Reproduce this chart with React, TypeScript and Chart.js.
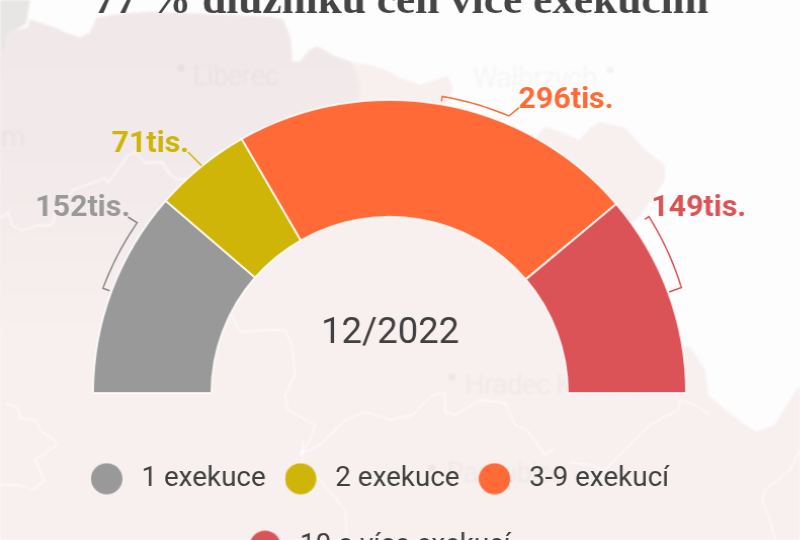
import React, { useEffect, useRef } from "react";
import { Chart, registerables } from "chart.js";

Chart.register(...registerables);

const categories = ["1 exekuce", "2 exekuce", "3-9 exekucí", "10 a více exekucí"];
const debtors = [152, 71, 296, 149];
const sliceLabels = ["152tis.", "71tis.", "296tis.", "149tis."];
const colors = ["#999999", "#cfb508", "#ff6a36", "#dc5357"];
const titleText = "77 % dlužníků čelí více exekucím";
const centerText = "12/2022";

const SX = 1.012;
const TOP = 40;
const W = 800;
const H = 610;
const sx = (x: number) => x / SX;
const sy = (y: number) => y + TOP;

const labelPositions = [
  { x: 35.2, y: 216 },
  { x: 111.5, y: 152 },
  { x: 518.5, y: 108 },
  { x: 651.2, y: 216 },
];
const brackets = [
  { from: 0.495, to: 0.837, r0: 302, r1: 302, tick0: 7, tick1: 0, lead: [128, 217] },
  null,
  { from: 0.5, to: 0.664, r0: 301, r1: 301, tick0: 5, tick1: 0, lead: [519, 107.7] },
  { from: 0.14, to: 0.5, r0: 311, r1: 307, tick0: 5, tick1: 13, lead: null },
];
const yellowLeader = [[188, 152], [201.7, 165.7]];

const mapOutline = [[0,55],[6,48],[8,35],[15,30],[28,28],[30,20],[55,28],[65,33],[80,38],[90,33],[97,18],[115,15],[150,12],[270,17],[283,20],[290,38],[292,62],[300,62],[310,50],[318,47],[335,57],[345,60],[352,63],[370,65],[385,70],[400,78],[420,85],[435,80],[448,76],[453,90],[445,105],[500,140],[535,138],[545,127],[560,132],[580,140],[590,128],[600,122],[625,128],[645,150],[665,165],[665,180],[655,195],[640,215],[633,222],[625,240],[670,345],[690,347],[705,370],[708,395],[725,410],[745,425],[757,432],[775,425],[790,400],[800,385],[800,540],[0,540]];
const mapDarker = [[0,55],[6,48],[8,35],[15,30],[28,28],[30,20],[55,28],[65,33],[80,38],[90,33],[97,18],[115,15],[150,12],[270,17],[283,20],[290,38],[292,62],[300,62],[310,50],[318,47],[335,57],[345,60],[352,63],[360,88],[357,105],[300,215],[215,260],[210,330],[0,330]];
const cornerGrey = [[0,0],[30,0],[28,12],[26,24],[15,30],[8,35],[6,48],[0,55]];
const borders = [
  [[0,218],[8,212],[12,225],[22,231],[35,226],[52,225],[55,215],[73,190],[105,178],[108,183],[128,155],[135,152],[145,163],[162,162],[170,175],[178,180],[187,178]],
  [[5,403],[18,408],[20,418],[35,420],[42,432],[55,440],[57,445],[35,460],[42,475],[45,480],[33,490],[20,485],[0,485]],
  [[232,315],[240,332],[270,330],[285,330],[292,345],[295,375],[285,395],[288,410],[315,425],[310,440],[300,455],[320,445],[345,420],[365,412],[390,420],[413,415],[432,395],[445,393],[445,412],[455,415],[480,400],[505,403],[515,425],[527,430],[545,455],[555,448]],
  [[303,440],[302,465],[320,480],[345,510],[347,540]],
  [[680,400],[678,410],[650,425],[635,440],[620,455],[605,470],[590,465],[570,462]],
  [[680,400],[695,405],[710,415]],
  [[800,450],[790,470],[765,490],[762,500],[770,520],[775,540]],
];
const placeNames = [
  { text: "Liberec", x: 193, y: 78, dot: [181, 68] },
  { text: "Wałbrzych", x: 473, y: 80, dot: [610, 70] },
  { text: "Ústí nad Labem", x: 25, y: 139, align: "right", dot: null },
  { text: "Hradec Králové", x: 465, y: 387, dot: [452, 377] },
  { text: "Pardubice", x: 447, y: 475, dot: [432, 468] },
];

const polygon = (ctx: CanvasRenderingContext2D, pts: number[][]) => {
  ctx.beginPath();
  pts.forEach(([x, y], i) => (i ? ctx.lineTo(x, y) : ctx.moveTo(x, y)));
  ctx.closePath();
};

const backdrop = {
  id: "backdrop",
  beforeDraw(chart: any) {
    const ctx: CanvasRenderingContext2D = chart.ctx;
    ctx.save();
    ctx.scale(1 / SX, 1);
    ctx.translate(0, TOP);
    ctx.fillStyle = "#fdfdfd";
    ctx.fillRect(0, -TOP, W * SX, H);
    ctx.filter = "blur(1px)";
    ctx.fillStyle = "#f8efef";
    polygon(ctx, mapOutline);
    ctx.fill();
    const g = ctx.createLinearGradient(0, 0, 0, 330);
    g.addColorStop(0, "#f1e8e9");
    g.addColorStop(0.55, "#f3eaeb");
    g.addColorStop(1, "#f8efef");
    ctx.fillStyle = g;
    polygon(ctx, mapDarker);
    ctx.fill();
    ctx.fillStyle = "#e8e5e5";
    polygon(ctx, cornerGrey);
    ctx.fill();
    ctx.strokeStyle = "rgba(255,255,255,0.75)";
    ctx.lineWidth = 1.8;
    ctx.lineJoin = "round";
    for (const b of borders) {
      ctx.beginPath();
      b.forEach(([x, y], i) => (i ? ctx.lineTo(x, y) : ctx.moveTo(x, y)));
      ctx.stroke();
    }
    ctx.font = "300 27px Roboto";
    ctx.fillStyle = "rgba(90,80,80,0.06)";
    for (const p of placeNames) {
      ctx.textAlign = (p.align as CanvasTextAlign) || "left";
      ctx.fillText(p.text, p.x, p.y);
      if (p.dot) {
        ctx.beginPath();
        ctx.arc(p.dot[0], p.dot[1], 3.5, 0, Math.PI * 2);
        ctx.fill();
      }
    }
    ctx.restore();
  },
};

const nudgeBlocks = {
  id: "nudgeBlocks",
  afterLayout(chart: any) {
    chart.titleBlock.left = 23;
    chart.legend.left += 1;
    chart.legend.right += 1;
  },
};

const annotations = {
  id: "annotations",
  afterDatasetsDraw(chart: any) {
    const ctx: CanvasRenderingContext2D = chart.ctx;
    const arcs = chart.getDatasetMeta(0).data;
    ctx.save();
    ctx.lineWidth = 1.5;
    ctx.lineJoin = "miter";
    arcs.forEach((arc: any, i: number) => {
      const { x, y, startAngle, endAngle } = arc.getProps(["x", "y", "startAngle", "endAngle"], true);
      const b = brackets[i];
      ctx.strokeStyle = i === 0 ? "#8a8a8a" : colors[i];
      ctx.beginPath();
      if (b) {
        const span = endAngle - startAngle;
        const a0 = startAngle + span * b.from;
        const a1 = startAngle + span * b.to;
        const polar = (a: number, r: number) => [x + Math.cos(a) * r, y + Math.sin(a) * r];
        const begin = polar(a0, b.r0 - b.tick0);
        ctx.moveTo(begin[0], begin[1]);
        for (let s = 0; s <= 16; s++) {
          const t = s / 16;
          const p = polar(a0 + (a1 - a0) * t, b.r0 + (b.r1 - b.r0) * t);
          ctx.lineTo(p[0], p[1]);
        }
        if (b.lead) ctx.lineTo(sx(b.lead[0]), sy(b.lead[1]));
        else {
          const p = polar(a1, b.r1 - b.tick1);
          ctx.lineTo(p[0], p[1]);
        }
      } else {
        ctx.moveTo(sx(yellowLeader[0][0]), sy(yellowLeader[0][1]));
        ctx.lineTo(sx(yellowLeader[1][0]), sy(yellowLeader[1][1]));
      }
      ctx.stroke();
      ctx.fillStyle = colors[i];
      ctx.font = "700 30px Roboto";
      ctx.textAlign = "left";
      ctx.textBaseline = "alphabetic";
      ctx.fillText(sliceLabels[i], sx(labelPositions[i].x), sy(labelPositions[i].y));
    });
    const first = arcs[0];
    ctx.fillStyle = "#404040";
    ctx.font = "400 36px Roboto";
    ctx.textAlign = "center";
    ctx.fillText(centerText, first.x + sx(0.5), first.y - 50);
    ctx.restore();
  },
};

const legendMark = (color: string) => {
  const c = document.createElement("canvas");
  c.width = 57;
  c.height = 32;
  const g = c.getContext("2d")!;
  g.fillStyle = color;
  g.beginPath();
  g.arc(15.5, 16, 15.5, 0, Math.PI * 2);
  g.fill();
  return c;
};

export default function App() {
  const ref = useRef<HTMLCanvasElement>(null);
  useEffect(() => {
    const chart = new Chart(ref.current!, {
      type: "doughnut",
      data: {
        labels: categories,
        datasets: [
          {
            data: debtors,
            backgroundColor: colors,
            borderColor: "rgba(255,255,255,0.8)",
            borderWidth: 2,
          },
        ],
      },
      plugins: [backdrop, nudgeBlocks, annotations],
      options: {
        responsive: false,
        animation: false,
        rotation: -90,
        circumference: 180,
        radius: 293,
        cutout: "60.1%",
        layout: { padding: { right: 30 } },
        plugins: {
          tooltip: { enabled: false },
          title: {
            display: true,
            text: titleText,
            color: "#454545",
            font: { family: "'Liberation Serif', serif", size: 42.8, weight: "bold" },
            padding: { top: 16, bottom: 40.5 },
          },
          legend: {
            position: "bottom",
            labels: {
              usePointStyle: true,
              pointStyleWidth: 15,
              padding: 40,
              color: "#404040",
              font: { family: "Roboto", size: 27.5 },
              generateLabels: () =>
                categories.map((text, i) => ({
                  text,
                  fillStyle: colors[i],
                  strokeStyle: colors[i],
                  lineWidth: 0,
                  pointStyle: legendMark(colors[i]),
                  hidden: false,
                  index: i,
                  fontColor: "#404040",
                })),
            },
          },
        },
      },
    } as any);
    return () => chart.destroy();
  }, []);
  return (
    <div style={{ position: "fixed", left: 0, top: 0, width: 800, height: 540, overflow: "hidden", background: "#fdfdfd" }}>
      <canvas
        ref={ref}
        width={W}
        height={H}
        style={{ position: "absolute", left: 0, top: -TOP, transform: `scaleX(${SX})`, transformOrigin: "0 0" }}
      />
    </div>
  );
}
